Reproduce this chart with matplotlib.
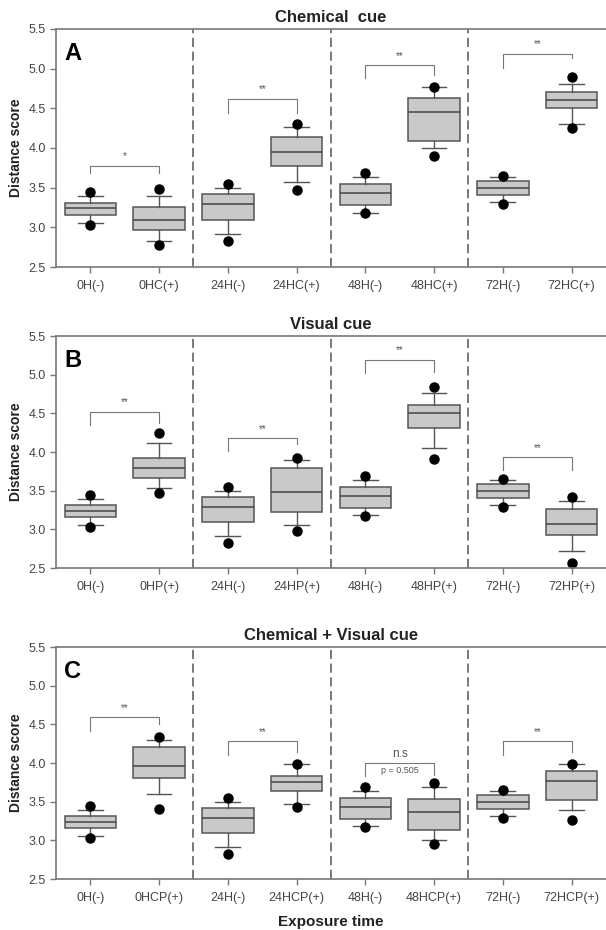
import matplotlib
matplotlib.use("Agg")
import matplotlib.pyplot as plt

plt.rcParams['font.family'] = ['Liberation Sans Narrow', 'Liberation Sans', 'DejaVu Sans']

# groups: 0H, 24H, 48H, 72H ; each a control (-) and a treatment (+)
ctrl_labels = ["0H(-)", "24H(-)", "48H(-)", "72H(-)"]
ctrl_med = [3.24, 3.29, 3.43, 3.49]
ctrl_q1 = [3.155, 3.09, 3.275, 3.41]
ctrl_q3 = [3.31, 3.42, 3.545, 3.59]
ctrl_wlo = [3.06, 2.915, 3.18, 3.32]
ctrl_whi = [3.39, 3.50, 3.64, 3.635]
ctrl_out_lo = [3.03, 2.83, 3.175, 3.29]
ctrl_out_hi = [3.45, 3.545, 3.687, 3.645]

# panel A: chemical cue
chem_labels = ["0HC(+)", "24HC(+)", "48HC(+)", "72HC(+)"]
chem_med = [3.087, 3.947, 4.447, 4.60]
chem_q1 = [2.97, 3.775, 4.082, 4.50]
chem_q3 = [3.25, 4.136, 4.631, 4.70]
chem_wlo = [2.83, 3.565, 4.002, 4.304]
chem_whi = [3.398, 4.262, 4.766, 4.80]
chem_out_lo = [2.772, 3.469, 3.90, 4.254]
chem_out_hi = [3.486, 4.30, 4.766, 4.896]
chem_br_top = [3.77, 4.62, 5.04, 5.185]
chem_br_left = [3.68, 4.44, 4.88, 5.01]
chem_br_right = [3.68, 4.44, 4.92, 5.13]
chem_sig = ["*", "**", "**", "**"]

# panel B: visual cue
vis_labels = ["0HP(+)", "24HP(+)", "48HP(+)", "72HP(+)"]
vis_med = [3.788, 3.487, 4.50, 3.068]
vis_q1 = [3.665, 3.22, 4.305, 2.928]
vis_q3 = [3.92, 3.788, 4.602, 3.258]
vis_wlo = [3.534, 3.055, 4.055, 2.716]
vis_whi = [4.119, 3.903, 4.767, 3.369]
vis_out_lo = [3.47, 2.975, 3.911, 2.564]
vis_out_hi = [4.246, 3.92, 4.839, 3.415]
vis_br_top = [4.517, 4.178, 5.195, 3.932]
vis_br_left = [4.347, 4.008, 5.025, 3.767]
vis_br_right = [4.38, 4.106, 5.03, 3.767]
vis_sig = ["**", "**", "**", "**"]

# panel C: chemical + visual cue
cv_labels = ["0HCP(+)", "24HCP(+)", "48HCP(+)", "72HCP(+)"]
cv_med = [3.964, 3.754, 3.366, 3.771]
cv_q1 = [3.801, 3.635, 3.14, 3.524]
cv_q3 = [4.211, 3.836, 3.541, 3.895]
cv_wlo = [3.601, 3.473, 2.999, 3.396]
cv_whi = [4.296, 3.993, 3.686, 3.993]
cv_out_lo = [3.40, 3.43, 2.948, 3.264]
cv_out_hi = [4.331, 3.993, 3.746, 3.993]
cv_br_top = [4.591, 4.279, 4.002, 4.279]
cv_br_left = [4.42, 4.104, 3.836, 4.104]
cv_br_right = [4.506, 4.147, 3.85, 4.147]
cv_sig = ["**", "**", "n.s", "**"]

panels = [
    ("A", "Chemical  cue", chem_labels, chem_med, chem_q1, chem_q3, chem_wlo, chem_whi,
     chem_out_lo, chem_out_hi, chem_br_top, chem_br_left, chem_br_right, chem_sig),
    ("B", "Visual cue", vis_labels, vis_med, vis_q1, vis_q3, vis_wlo, vis_whi,
     vis_out_lo, vis_out_hi, vis_br_top, vis_br_left, vis_br_right, vis_sig),
    ("C", "Chemical + Visual cue", cv_labels, cv_med, cv_q1, cv_q3, cv_wlo, cv_whi,
     cv_out_lo, cv_out_hi, cv_br_top, cv_br_left, cv_br_right, cv_sig),
]

# axes rectangles in figure fractions (left, bottom, width, height)
rects = [
    [0.0924, 0.7129, 0.9076, 0.2560],
    [0.0924, 0.3892, 0.9076, 0.2495],
    [0.0924, 0.0548, 0.9076, 0.2495],
]

edge = "#555555"
bold_font = ["Liberation Sans", "DejaVu Sans"]
fig = plt.figure(figsize=(6.06, 9.30), dpi=100)

for rect, panel in zip(rects, panels):
    (letter, title, tr_labels, med, q1, q3, wlo, whi,
     out_lo, out_hi, br_top, br_left, br_right, sig) = panel
    ax = fig.add_axes(rect)

    stats = []
    labels = []
    for i in range(4):
        stats.append(dict(med=ctrl_med[i], q1=ctrl_q1[i], q3=ctrl_q3[i],
                          whislo=ctrl_wlo[i], whishi=ctrl_whi[i],
                          fliers=[ctrl_out_lo[i], ctrl_out_hi[i]]))
        stats.append(dict(med=med[i], q1=q1[i], q3=q3[i],
                          whislo=wlo[i], whishi=whi[i],
                          fliers=[out_lo[i], out_hi[i]]))
        labels += [ctrl_labels[i], tr_labels[i]]

    positions = list(range(1, 9))
    ax.bxp(stats, positions=positions, widths=0.75, capwidths=0.36,
           patch_artist=True,
           boxprops=dict(facecolor="#c9c9c9", edgecolor=edge, linewidth=1.1),
           medianprops=dict(color="#444444", linewidth=1.1),
           whiskerprops=dict(color=edge, linewidth=1.0),
           capprops=dict(color=edge, linewidth=1.0),
           flierprops=dict(marker="o", markerfacecolor="black", markeredgecolor="black",
                           markersize=6.5))

    # significance brackets
    for i in range(4):
        xl, xr = 2 * i + 1, 2 * i + 2
        ax.plot([xl, xl, xr, xr], [br_left[i], br_top[i], br_top[i], br_right[i]],
                color="#777777", linewidth=0.8)
        if sig[i] == "n.s":
            ax.text((xl + xr) / 2, br_top[i] + 0.04, "n.s", ha="center", va="bottom",
                    fontsize=8.5, color="#555555")
            ax.text((xl + xr) / 2, br_top[i] - 0.04, "p = 0.505", ha="center", va="top",
                    fontsize=6.5, color="#555555")
        else:
            ax.text((xl + xr) / 2, br_top[i] + 0.06, sig[i], ha="center", va="bottom",
                    fontsize=7, color="#555555")

    for xv in [2.5, 4.5, 6.5]:
        ax.axvline(xv, color="#555555", linestyle=(0, (6, 3)), linewidth=1.1)

    ax.set_xlim(0.5, 8.5)
    ax.set_ylim(2.5, 5.5)
    ax.set_yticks([2.5, 3.0, 3.5, 4.0, 4.5, 5.0, 5.5])
    ax.set_yticklabels(["2.5", "3.0", "3.5", "4.0", "4.5", "5.0", "5.5"])
    ax.set_xticks(positions)
    ax.set_xticklabels(labels)
    ax.tick_params(axis="both", colors="#777777", labelcolor="#444444",
                   labelsize=9, length=4, width=1.0)
    ax.tick_params(axis="x", pad=5)
    for s in ["left", "bottom", "top"]:
        ax.spines[s].set_color("#777777")
        ax.spines[s].set_linewidth(1.2)
    ax.spines["right"].set_visible(False)

    ax.set_ylabel("Distance score", fontsize=10, fontweight="bold", color="#222222",
                  family=bold_font, labelpad=4)
    ax.set_title(title, fontsize=12, fontweight="bold", color="#222222", pad=5,
                 family=bold_font)
    ax.text(0.015, 0.945, letter, transform=ax.transAxes, fontsize=17, fontweight="bold",
            ha="left", va="top", family=bold_font,
            bbox=dict(facecolor="white", edgecolor="none", pad=3))

    if letter == "C":
        ax.set_xlabel("Exposure time", fontsize=11, fontweight="bold", color="#222222",
                      family=bold_font, labelpad=8)

fig.savefig("out.png", dpi=100, facecolor="white")
